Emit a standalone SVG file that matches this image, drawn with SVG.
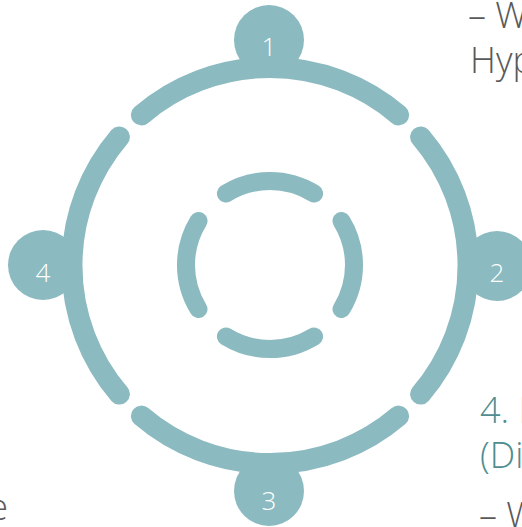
<svg xmlns="http://www.w3.org/2000/svg" width="522" height="527" viewBox="0 0 522 527">
<style>
.arc{fill:none;stroke:#8bbac0;stroke-width:21;stroke-linecap:round}
.iarc{fill:none;stroke:#8bbac0;stroke-width:18;stroke-linecap:round}
.dot{fill:#8bbac0}
.num{font-family:"Open Sans","Liberation Sans",sans-serif;font-weight:300;font-size:26px;fill:#ffffff;text-anchor:middle}
.txt{font-family:"Open Sans","Liberation Sans",sans-serif;font-weight:300;font-size:36px;fill:#595959}
.head{font-family:"Open Sans","Liberation Sans",sans-serif;font-weight:300;font-size:36px;fill:#4f8d90}
</style>
<rect width="522" height="527" fill="#ffffff"/>
<g id="connectors">
<path class="arc" d="M141.4,114.9 A198,198 0 0 1 398.6,114.9"/>
<path class="arc" d="M420.6,136.9 A198,198 0 0 1 420.6,394.1"/>
<path class="arc" d="M398.6,416.1 A198,198 0 0 1 141.4,416.1"/>
<path class="arc" d="M119.4,394.1 A198,198 0 0 1 119.4,136.9"/>
<path class="iarc" d="M225.9,193.5 A84,84 0 0 1 314.1,193.5"/>
<path class="iarc" d="M341.5,220.9 A84,84 0 0 1 341.5,309.1"/>
<path class="iarc" d="M314.1,336.5 A84,84 0 0 1 225.9,336.5"/>
<path class="iarc" d="M198.5,309.1 A84,84 0 0 1 198.5,220.9"/>
</g>
<g id="node1"><circle class="dot" cx="269" cy="40" r="35"/><text class="num" x="269" y="56">1</text></g>
<g id="node2"><circle class="dot" cx="497" cy="266" r="35"/><text class="num" x="497" y="282">2</text></g>
<g id="node3"><circle class="dot" cx="269" cy="491" r="35"/><text class="num" x="269" y="510">3</text></g>
<g id="node4"><circle class="dot" cx="43" cy="265" r="35"/><text class="num" x="43" y="282">4</text></g>
<g id="texts">
<text class="txt" x="468" y="28">– W</text>
<text class="txt" x="470" y="73">Hyp</text>
<text class="head" x="480" y="423">4. I</text>
<text class="head" x="480" y="468">(Di</text>
<text class="txt" x="479" y="528">– W</text>
<text class="txt" x="8" y="520" text-anchor="end">e</text>
</g>
</svg>
